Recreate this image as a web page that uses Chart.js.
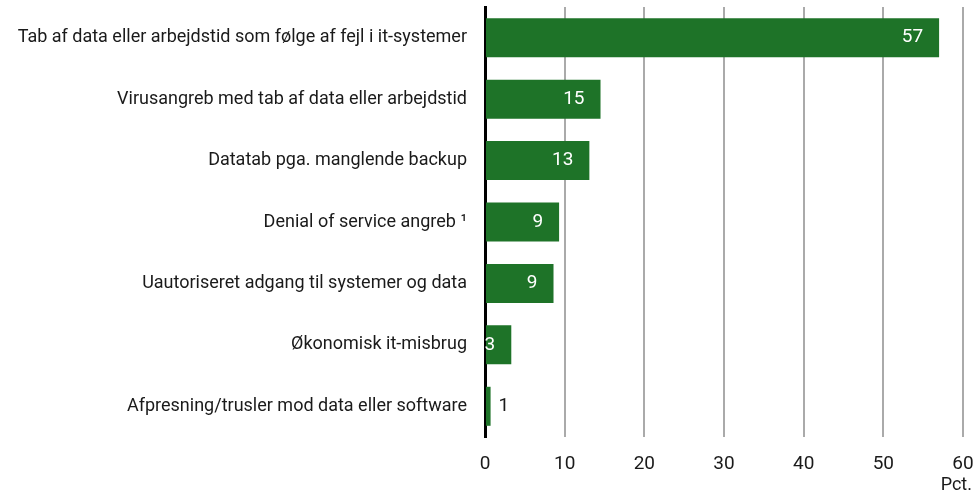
<!DOCTYPE html>
<html>
<head>
<meta charset="utf-8">
<script src="https://cdn.jsdelivr.net/npm/chart.js@4"></script>
<style>
  html, body { margin: 0; padding: 0; background: #fff; }
  #wrap { width: 976px; height: 495px; }
</style>
</head>
<body>
<div id="wrap"><canvas id="chart"></canvas></div>
<script>
// data
const categories = [
  "Tab af data eller arbejdstid som følge af fejl i it-systemer",
  "Virusangreb med tab af data eller arbejdstid",
  "Datatab pga. manglende backup",
  "Denial of service angreb ¹",
  "Uautoriseret adgang til systemer og data",
  "Økonomisk it-misbrug",
  "Afpresning/trusler mod data eller software"
];
const values = [57, 14.5, 13.1, 9.3, 8.6, 3.3, 0.7];
const valueLabels = ["57", "15", "13", "9", "9", "3", "1"];
const xTicks = [0, 10, 20, 30, 40, 50, 60];

const FONT = "Roboto, sans-serif";
const GREEN = "#1e7328";

// value labels: white inside the bar end, black outside for tiny bars
const valueLabelPlugin = {
  id: "valueLabels",
  afterDatasetsDraw(chart) {
    const ctx = chart.ctx;
    const meta = chart.getDatasetMeta(0);
    ctx.save();
    ctx.font = "19px " + FONT;
    ctx.textBaseline = "middle";
    meta.data.forEach((bar, i) => {
      if (values[i] < 2) {
        ctx.fillStyle = "#1a1a1a";
        ctx.textAlign = "left";
        ctx.fillText(valueLabels[i], bar.x + 8, bar.y);
      } else {
        ctx.fillStyle = "#ffffff";
        ctx.textAlign = "right";
        ctx.fillText(valueLabels[i], bar.x - 16, bar.y);
      }
    });
    // unit under the last tick
    ctx.fillStyle = "#1a1a1a";
    ctx.textAlign = "right";
    ctx.font = "18px " + FONT;
    ctx.fillText("Pct.", 972, 485);
    ctx.restore();
  }
};

new Chart(document.getElementById("chart"), {
  type: "bar",
  data: {
    labels: categories,
    datasets: [{
      data: values,
      backgroundColor: GREEN,
      borderWidth: 0,
      categoryPercentage: 0.635,
      barPercentage: 1
    }]
  },
  options: {
    indexAxis: "y",
    responsive: true,
    maintainAspectRatio: false,
    animation: false,
    layout: { padding: { left: 0, right: 13, top: 7, bottom: 0 } },
    plugins: {
      legend: { display: false },
      tooltip: { enabled: false }
    },
    scales: {
      x: {
        min: 0,
        max: 60,
        afterBuildTicks(scale) {
          scale.ticks = xTicks.map(v => ({ value: v }));
        },
        afterFit(scale) {
          scale.height = 58;
          scale.paddingLeft = 0;
          scale.paddingRight = 0;
        },
        grid: { color: "#aaaaaa", lineWidth: 2, drawTicks: false },
        border: { display: false },
        ticks: {
          color: "#1a1a1a",
          font: { family: FONT, size: 19 },
          padding: 16
        }
      },
      y: {
        z: 1,
        afterFit(scale) {
          scale.width = 485;
          scale.paddingTop = 0;
          scale.paddingBottom = 0;
        },
        grid: { display: false, drawTicks: false },
        border: { color: "#000000", width: 3 },
        ticks: {
          color: "#1a1a1a",
          font: { family: FONT, size: 18 },
          padding: 18
        }
      }
    }
  },
  plugins: [valueLabelPlugin]
});
</script>
</body>
</html>
